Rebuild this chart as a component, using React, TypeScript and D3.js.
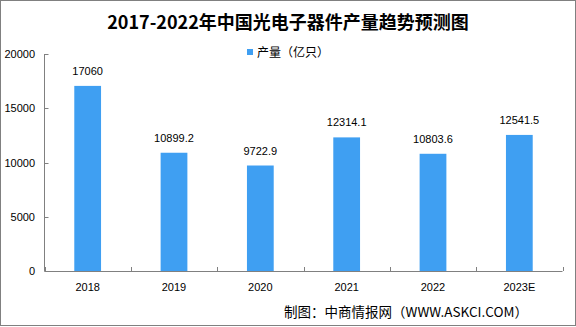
import React from "react";
import * as d3 from "d3";

const categories = ["2018", "2019", "2020", "2021", "2022", "2023E"];
const values = [17060, 10899.2, 9722.9, 12314.1, 10803.6, 12541.5];
const valueLabels = ["17060", "10899.2", "9722.9", "12314.1", "10803.6", "12541.5"];
const yTicks = [0, 5000, 10000, 15000, 20000];
const title = "2017-2022年中国光电子器件产量趋势预测图";
const legendLabel = "产量（亿只）";
const source = "制图：中商情报网（WWW.ASKCI.COM）";

const W = 576;
const H = 327;
const left = 44.5;
const right = 562.5;
const top = 54;
const bottom = 271;
const axisColor = "#808080";
const barColor = "#3f9ff2";
const sans = "'Liberation Sans', Arial, sans-serif";
const cjk = "'Noto Sans CJK SC', 'Noto Sans', sans-serif";

export default function App() {
  const x = d3.scaleBand<string>().domain(categories).range([left, right]).paddingInner(0).paddingOuter(0);
  const y = d3.scaleLinear().domain([0, 20000]).range([bottom, top]);
  const bw = x.bandwidth() * 0.31;

  return (
    <svg
      width={W}
      height={H}
      style={{ position: "absolute", left: 0, top: 0, background: "#fff" }}
    >
      <rect x={0} y={0} width={W} height={H} fill="#fff" />
      <rect x={0.5} y={0.5} width={W - 1} height={325} fill="none" stroke={axisColor} strokeWidth={1} />
      <text x={288} y={29} textAnchor="middle" fontFamily={cjk} fontWeight={700} fontSize={18} fill="#000">
        {title}
      </text>
      {/* legend */}
      <rect x={247} y={49} width={6} height={6} fill={barColor} />
      <text x={257} y={57} fontFamily={cjk} fontSize={12} fill="#000">
        {legendLabel}
      </text>
      {/* y axis */}
      <line x1={left} x2={left} y1={top} y2={bottom} stroke={axisColor} />
      {yTicks.map((t) => (
        <g key={t}>
          <line x1={left} x2={left + 4} y1={Math.round(y(t)) + 0.5} y2={Math.round(y(t)) + 0.5} stroke={axisColor} />
          <text x={35} y={y(t) + 4} textAnchor="end" fontFamily={sans} fontSize={11} fill="#000">
            {t}
          </text>
        </g>
      ))}
      {/* x axis */}
      <line x1={left} x2={right} y1={bottom + 0.5} y2={bottom + 0.5} stroke={axisColor} />
      {[...categories.map((c) => x(c) as number), right].map((p, i) => (
        <line key={i} x1={Math.round(p) + 0.5} x2={Math.round(p) + 0.5} y1={bottom} y2={bottom - 4} stroke={axisColor} />
      ))}
      {categories.map((c, i) => {
        const cx = (x(c) as number) + x.bandwidth() / 2;
        return (
          <g key={c}>
            <rect x={cx - bw / 2} y={y(values[i])} width={bw} height={bottom - y(values[i])} fill={barColor} />
            <text x={cx} y={y(values[i]) - 11} textAnchor="middle" fontFamily={sans} fontSize={11} fill="#000">
              {valueLabels[i]}
            </text>
            <text x={cx} y={291} textAnchor="middle" fontFamily={sans} fontSize={11} fill="#000">
              {c}
            </text>
          </g>
        );
      })}
      <text x={528} y={317} textAnchor="end" fontFamily={cjk} fontSize={13.5} fill="#000">
        {source}
      </text>
    </svg>
  );
}
